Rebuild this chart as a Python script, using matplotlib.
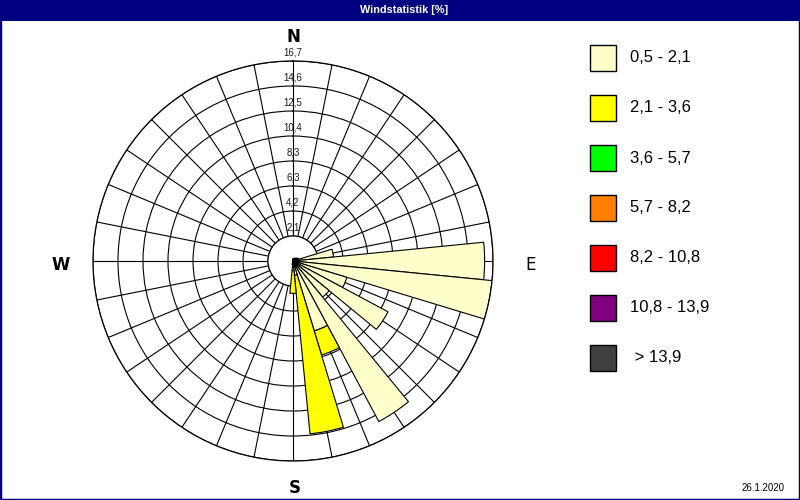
import numpy as np
import matplotlib.pyplot as plt
from matplotlib.patches import Rectangle, Circle

# 32 wind directions (degrees, clockwise from north)
directions = np.arange(0, 360, 11.25)

speed_classes = ['0,5 - 2,1', '2,1 - 3,6', '3,6 - 5,7', '5,7 - 8,2',
                 '8,2 - 10,8', '10,8 - 13,9', ' > 13,9']
class_colors = ['#FFFFCC', '#FFFF00', '#00FF00', '#FF8000',
                '#FF0000', '#800080', '#404040']

# frequency [%] per direction and speed class
freq_05_21 = [0.2, 0.2, 0.2, 0.3, 0.3, 0.4, 0.5, 3.4,
              16.0, 16.7, 4.7, 9.0, 3.9, 15.2, 6.1, 1.2,
              0.8, 0.3, 0.0, 0.0, 0.0, 0.0, 0.0, 0.0,
              0.0, 0.0, 0.0, 0.0, 0.0, 0.0, 0.0, 0.0]
freq_21_36 = [0.0, 0.0, 0.0, 0.0, 0.0, 0.0, 0.0, 0.0,
              0.0, 0.0, 0.0, 0.0, 0.0, 0.0, 2.1, 13.3,
              1.9, 0.0, 0.0, 0.0, 0.0, 0.0, 0.0, 0.0,
              0.0, 0.0, 0.0, 0.0, 0.0, 0.0, 0.0, 0.0]
freq_36_57 = [0.0] * 32
freq_57_82 = [0.0] * 32
freq_82_108 = [0.0] * 32
freq_108_139 = [0.0] * 32
freq_gt_139 = [0.0] * 32

ring_labels = ['2,1', '4,2', '6,3', '8,3', '10,4', '12,5', '14,6', '16,7']
r_max = 16.7

all_freqs = [freq_05_21, freq_21_36, freq_36_57, freq_57_82,
             freq_82_108, freq_108_139, freq_gt_139]

fig = plt.figure(figsize=(8, 5), dpi=100)
fig.patch.set_facecolor('white')

ax = fig.add_axes([93 / 800, 39 / 500, 400 / 800, 400 / 500], projection='polar')
ax.set_theta_zero_location('N')
ax.set_theta_direction(-1)
ax.set_ylim(0, r_max)
rings = np.linspace(r_max / 8, r_max, 8)
ax.set_thetagrids(directions, labels=[''] * len(directions))
ax.set_rgrids(rings, labels=[''] * len(rings))
ax.tick_params(length=0)
ax.grid(True, color='black', linewidth=0.8)
ax.set_axisbelow(True)
ax.spines['polar'].set_color('black')
ax.spines['polar'].set_linewidth(0.9)

# white centre disc (inner ring)
ax.add_patch(Circle((0.5, 0.5), 0.5 * rings[0] / r_max, transform=ax.transAxes,
                    facecolor='white', edgecolor='black', linewidth=0.8, zorder=1))

theta = np.deg2rad(directions)
width = np.deg2rad(11.25)
bottom = np.zeros(len(directions))
for vals, color in zip(all_freqs, class_colors):
    vals = np.array(vals)
    m = vals > 0
    if m.any():
        ax.bar(theta[m], vals[m], width=width, bottom=bottom[m], color=color,
               edgecolor='black', linewidth=0.8, zorder=2)
    bottom += vals

for r, lab in zip(rings, ring_labels):
    ax.text(0, r + 0.75, lab, ha='center', va='center', fontsize=7,
            family='Liberation Sans', color='#1a1a1a', zorder=4, clip_on=False)

# compass letters
fig.text(293 / 800, 1 - 37 / 500, 'N', ha='center', va='center', fontsize=12,
         fontweight='bold', family='DejaVu Sans')
fig.text(61 / 800, 1 - 265 / 500, 'W', ha='center', va='center', fontsize=12,
         fontweight='bold', family='DejaVu Sans')
fig.text(531 / 800, 1 - 265 / 500, 'E', ha='center', va='center', fontsize=12,
         family='DejaVu Sans')
fig.text(295 / 800, 1 - 488 / 500, 'S', ha='center', va='center', fontsize=12,
         fontweight='bold', family='DejaVu Sans')

# title bar and window frame
fig.add_artist(Rectangle((0, 1 - 21 / 500), 1, 21 / 500, transform=fig.transFigure,
                         facecolor='#000080', edgecolor='none'))
fig.text(404 / 800, 1 - 10 / 500, 'Windstatistik [%]', ha='center', va='center',
         color='white', fontsize=7.8, fontweight='bold', family='Liberation Sans')
fig.add_artist(Rectangle((0, 0), 1, 1, transform=fig.transFigure, fill=False,
                         edgecolor='#000080', linewidth=2.5))

# legend
for i, (lab, color) in enumerate(zip(speed_classes, class_colors)):
    top = 45 + 50 * i
    fig.add_artist(Rectangle((590 / 800, 1 - (top + 26) / 500), 26 / 800, 26 / 500,
                             transform=fig.transFigure, facecolor=color,
                             edgecolor='black', linewidth=1))
    fig.text(630 / 800, 1 - (top + 13) / 500, lab, ha='left', va='center',
             fontsize=12, family='Liberation Sans')

fig.text(785 / 800, 1 - 488 / 500, '26.1.2020', ha='right', va='center',
         fontsize=7, family='Liberation Sans')

fig.savefig('out.png', dpi=100)
